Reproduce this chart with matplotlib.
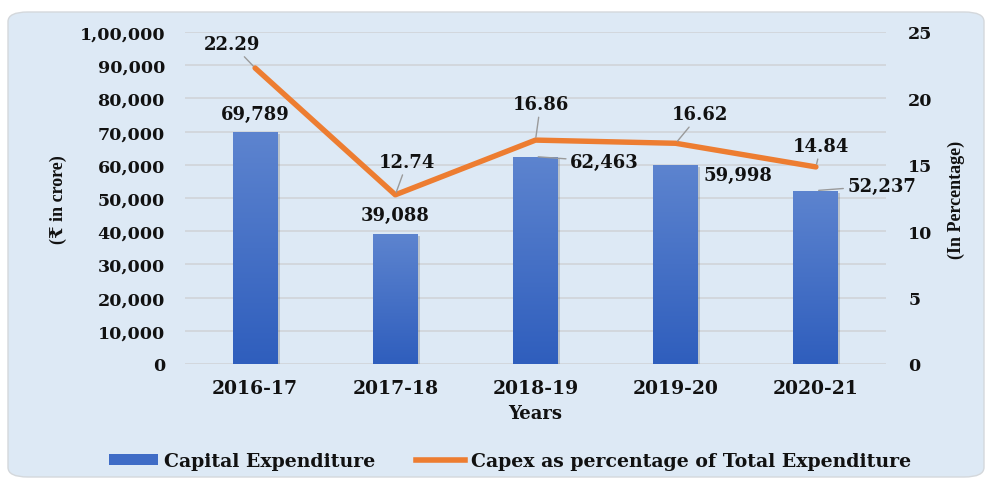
import matplotlib
matplotlib.use("Agg")
import matplotlib.pyplot as plt
import numpy as np
from matplotlib.patches import FancyBboxPatch
from matplotlib.lines import Line2D
from matplotlib.patches import Patch
from matplotlib.colors import LinearSegmentedColormap
import matplotlib.patheffects as pe

# ---- data ----
years = ["2016-17", "2017-18", "2018-19", "2019-20", "2020-21"]
capex = [69789, 39088, 62463, 59998, 52237]
pct = [22.29, 12.74, 16.86, 16.62, 14.84]
left_ticks = [0, 10000, 20000, 30000, 40000, 50000, 60000, 70000, 80000, 90000, 100000]
right_ticks = [0, 5, 10, 15, 20, 25]

# label offsets (pixels) relative to marks
pct_offsets = [(-23, 24), (12, 33), (5, 36), (24, 29), (5, 21)]
pct_leader = [True, True, True, True, True]
cap_offsets = [(0, 18), (0, 19), (69, -5), (62, -10), (66, 5)]
cap_leader = [False, False, True, False, True]


def indian(v):
    s = str(int(round(v)))
    if len(s) <= 3:
        return s
    last3 = s[-3:]
    rest = s[:-3]
    parts = []
    while len(rest) > 2:
        parts.insert(0, rest[-2:])
        rest = rest[:-2]
    if rest:
        parts.insert(0, rest)
    return ",".join(parts + [last3])


BG = "#dde9f5"
TXT = "#111111"
GRID = "#d0d4d9"
ORANGE = "#ed7d31"
FONT = "DejaVu Serif"
SERIF2 = ["Liberation Serif", "DejaVu Serif", "DejaVu Sans"]

fig = plt.figure(figsize=(9.86, 4.81), dpi=100)
fig.patch.set_facecolor("white")
bgpatch = FancyBboxPatch((8 / 986, 3 / 481), 976 / 986, 465 / 481,
                         boxstyle="round,pad=0,rounding_size=0.02",
                         transform=fig.transFigure, facecolor=BG,
                         edgecolor="#d4d8dc", linewidth=1.0, zorder=-10)
fig.add_artist(bgpatch)

ax = fig.add_axes([185 / 986, 1 - 365 / 481, 701 / 986, 332 / 481])
ax.set_facecolor("none")
ax2 = ax.twinx()
ax2.set_facecolor("none")

x = np.arange(len(years))
bars = ax.bar(x, capex, width=0.32, color="#4470c8", zorder=3,
              path_effects=[pe.SimplePatchShadow(offset=(1.5, -1.5), alpha=0.25, shadow_rgbFace="#555555"), pe.Normal()])

# gradient fill
grad = np.linspace(0, 1, 256).reshape(-1, 1)
cmap = LinearSegmentedColormap.from_list("bg", ["#2f5ebd", "#5d84cf"])
for b in bars:
    x0, y0 = b.get_x(), b.get_y()
    w, h = b.get_width(), b.get_height()
    im = ax.imshow(grad, extent=[x0, x0 + w, y0, y0 + h], origin="lower",
                   cmap=cmap, aspect="auto", zorder=4)
    im.set_clip_path(b)

ax.set_xlim(-0.5, len(years) - 0.5)
ax.set_ylim(0, 100000)
ax2.set_ylim(0, 25)

ax.set_yticks(left_ticks)
ax.set_yticklabels([indian(v) for v in left_ticks])
ax2.set_yticks(right_ticks)
ax2.set_yticklabels([str(v) for v in right_ticks])
ax.set_xticks(x)
ax.set_xticklabels(years)

for a in (ax, ax2):
    for s in a.spines.values():
        s.set_visible(False)
    a.tick_params(length=0)

ax.yaxis.grid(True, color=GRID, linewidth=1.2, zorder=0)
ax.set_axisbelow(True)

ax.tick_params(axis="y", pad=14.4, labelsize=12.6, labelcolor=TXT)
ax2.tick_params(axis="y", pad=16, labelsize=12.6, labelcolor=TXT)
ax.tick_params(axis="x", pad=10.5, labelsize=13.5, labelcolor=TXT)
for lab in ax.get_yticklabels() + ax2.get_yticklabels() + ax.get_xticklabels():
    lab.set_fontfamily(FONT)
    lab.set_fontweight("bold")

ax.set_xlabel("Years", fontsize=13, fontweight="bold", family=FONT, color=TXT, labelpad=5.5)
ax.set_ylabel("(₹ in crore)", fontsize=13, fontweight="bold", family=SERIF2, color=TXT)
ax.yaxis.set_label_coords(-0.168, 0.497)
ax2.set_ylabel("(In Percentage)", fontsize=13, fontweight="bold", family=SERIF2, color=TXT, rotation=90)
ax2.yaxis.set_label_coords(1.088, 0.497)

ax2.plot(x, pct, color=ORANGE, linewidth=3.9, solid_capstyle="round", solid_joinstyle="round", zorder=5)

leader = dict(arrowstyle="-", color="#9a9a9a", lw=1.0, shrinkA=1, shrinkB=2)
for xi, v, off, ld in zip(x, pct, pct_offsets, pct_leader):
    ax2.annotate(f"{v:.2f}", xy=(xi, v), xytext=off, textcoords="offset pixels",
                 ha="center", va="center", fontsize=13, fontweight="bold",
                 family=FONT, color=TXT, arrowprops=leader if ld else None, zorder=6)
for xi, v, off, ld in zip(x, capex, cap_offsets, cap_leader):
    ax.annotate(indian(v), xy=(xi, v), xytext=off, textcoords="offset pixels",
                ha="center", va="center", fontsize=13, fontweight="bold",
                family=FONT, color=TXT, arrowprops=leader if ld else None, zorder=6)

handles = [Patch(facecolor="#3f6cc6", edgecolor="none"),
           Line2D([0], [0], color=ORANGE, linewidth=4)]
leg = fig.legend(handles, ["Capital Expenditure", "Capex as percentage of Total Expenditure"],
                 loc="center", bbox_to_anchor=(510 / 986, 1 - 462 / 481), ncol=2,
                 frameon=False, prop={"family": FONT, "weight": "bold", "size": 13.6},
                 handlelength=2.6, handleheight=0.5, columnspacing=2.2, handletextpad=0.3,
                 labelcolor=TXT)

fig.savefig("out.png", dpi=100, facecolor=fig.get_facecolor())
